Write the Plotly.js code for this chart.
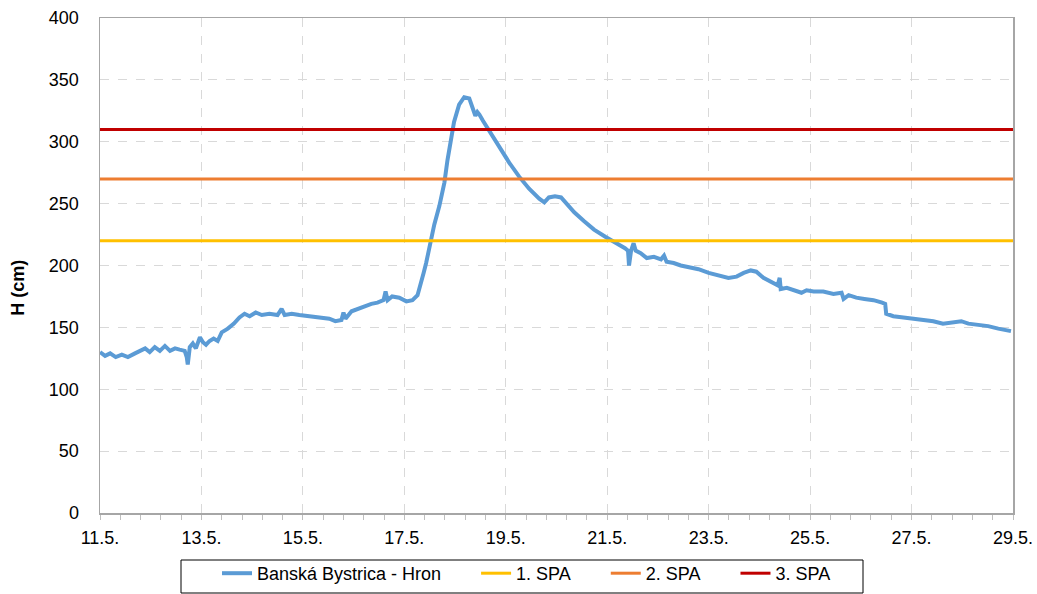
<!DOCTYPE html>
<html>
<head>
<meta charset="utf-8">
<script src="https://cdn.plot.ly/plotly-3.0.1.min.js"></script>
<style>html,body{margin:0;padding:0;background:#fff;}#chart{width:1037px;height:594px;}</style>
</head>
<body>
<div id="chart"></div>
<script>
// Day of May (11.0 = 11.5. 00:00)
const days = [11.00,11.10,11.20,11.31,11.43,11.55,11.69,11.79,11.89,11.98,12.08,12.18,12.28,12.38,12.48,12.57,12.67,12.71,12.73,12.77,12.83,12.89,12.97,13.03,13.09,13.16,13.24,13.32,13.40,13.52,13.64,13.75,13.85,13.95,14.07,14.19,14.34,14.50,14.58,14.64,14.78,14.93,15.13,15.33,15.52,15.64,15.76,15.80,15.84,15.96,16.08,16.21,16.35,16.47,16.59,16.63,16.67,16.76,16.90,17.04,17.16,17.26,17.32,17.38,17.43,17.49,17.59,17.69,17.79,17.85,17.92,17.98,18.08,18.18,18.28,18.34,18.40,18.44,18.48,18.55,18.67,18.87,19.07,19.26,19.46,19.66,19.76,19.85,19.97,20.09,20.19,20.35,20.54,20.74,20.97,21.19,21.35,21.41,21.43,21.47,21.52,21.56,21.66,21.78,21.92,22.06,22.12,22.17,22.31,22.45,22.61,22.80,23.00,23.20,23.39,23.55,23.69,23.83,23.94,24.08,24.22,24.36,24.40,24.42,24.54,24.68,24.83,24.93,25.07,25.26,25.46,25.62,25.66,25.76,25.91,26.07,26.25,26.42,26.48,26.50,26.64,26.84,27.03,27.23,27.43,27.62,27.82,27.98,28.12,28.31,28.51,28.71,28.86,28.96];
const levels = [130,127,129,126,128,126,129,131,133,130,134,131,135,131,133,132,131,126,120,134,137,133,142,138,136,139,141,139,146,149,153,158,161,159,162,160,161,160,165,160,161,160,159,158,157,155,156,162,157,163,165,167,169,170,172,179,172,175,174,171,172,176,184,194,202,214,233,248,267,285,303,316,330,336,335,329,321,324,322,317,309,296,283,272,262,254,251,255,256,255,250,243,236,229,223,218,214,212,200,212,218,212,210,206,207,205,208,203,202,200,199,197,194,192,190,191,194,196,195,190,187,184,190,181,182,180,178,180,179,179,177,178,173,176,174,173,172,170,169,161,159,158,157,156,155,153,154,155,153,152,151,149,148,147];
const seriesName = "Banská Bystrica - Hron";
const spaNames = ["1. SPA","2. SPA","3. SPA"];
const spaValues = [220,270,310];
const spaColors = ["#FFC000","#ED7D31","#C00000"];
const xRange = [11,29];
const tickVals = [11,13,15,17,19,21,23,25,27,29];
const tickLabels = ["11.5.","13.5.","15.5.","17.5.","19.5.","21.5.","23.5.","25.5.","27.5.","29.5."];
const yTitle = "H (cm)";

const pad = '\u00A0\u00A0\u00A0\u00A0\u00A0\u00A0';
const traces = [{
  x: days, y: levels, name: seriesName + pad, type: 'scatter', mode: 'lines',
  line: {color: '#5B9BD5', width: 4}
}];
spaNames.forEach((n,i)=>{
  traces.push({x: xRange, y: [spaValues[i], spaValues[i]], name: n + (i < spaNames.length-1 ? pad : ''), type: 'scatter', mode: 'lines',
    line: {color: spaColors[i], width: 3}});
});

const font = {family: 'Liberation Sans, Arial, sans-serif', size: 18, color: '#000'};
const L = 100, R = 1013, T = 18, B = 513;
const px2x = p => (p - L) / (R - L);
const py2y = p => (B - p) / (B - T);
const layout = {
  width: 1037, height: 594,
  margin: {l: 100, r: 24, t: 18, b: 81},
  paper_bgcolor: '#fff', plot_bgcolor: '#fff',
  font: font,
  showlegend: true,
  legend: {orientation: 'h', xref: 'container', yref: 'container', x: 217/1037, xanchor: 'left',
    y: 1 - 555/594, yanchor: 'top', borderwidth: 0, font: font, itemwidth: 30, bgcolor: 'rgba(0,0,0,0)'},
  xaxis: {range: xRange, tickmode: 'array', tickvals: tickVals, ticktext: tickLabels,
    showgrid: true, gridcolor: '#d9d9d9', griddash: 'dash', gridwidth: 1,
    showline: true, linecolor: '#a6a6a6', linewidth: 1.5, mirror: true,
    ticks: 'outside', ticklen: 5, tickcolor: '#bfbfbf', ticklabelstandoff: 3,
    minor: {tick0: 11, dtick: 0.4, ticks: 'outside', ticklen: 5, tickcolor: '#bfbfbf', showgrid: false},
    zeroline: false, fixedrange: true, automargin: false},
  yaxis: {range: [0,400], dtick: 50, tick0: 0,
    showgrid: true, gridcolor: '#d9d9d9', griddash: 'dash', gridwidth: 1,
    showline: true, linecolor: '#a6a6a6', linewidth: 1.5, mirror: true,
    ticks: '', ticklabelstandoff: 16, zeroline: false, fixedrange: true, automargin: false},
  shapes: [{type: 'rect', xref: 'paper', yref: 'paper', x0: px2x(181), x1: px2x(863), y0: py2y(560), y1: py2y(593),
    line: {color: '#000', width: 1}, fillcolor: 'rgba(0,0,0,0)'}],
  annotations: [{text: '<b>' + yTitle + '</b>', xref: 'paper', yref: 'paper', x: -0.0898, y: 0.455,
    textangle: -90, showarrow: false, font: font, xanchor: 'center', yanchor: 'middle'}]
};
Plotly.newPlot('chart', traces, layout, {staticPlot: true, displayModeBar: false});
</script>
</body>
</html>
